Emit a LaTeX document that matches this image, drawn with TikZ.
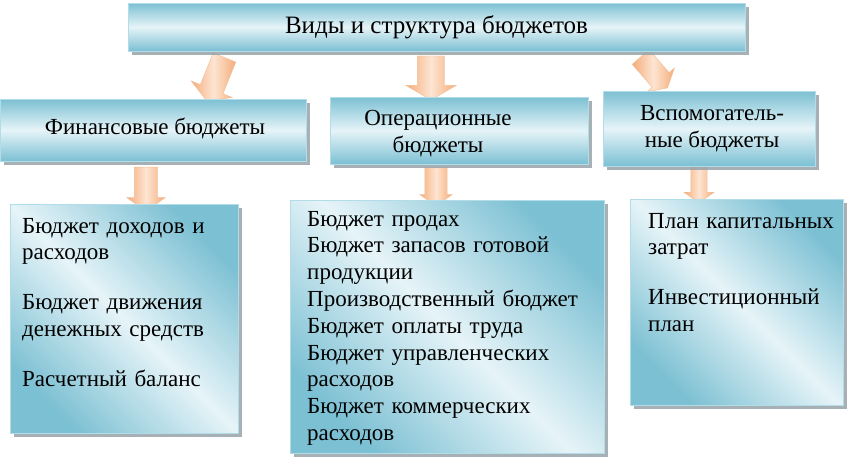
\documentclass[tikz,border=0pt]{standalone}
\usepackage{fontspec}
\setmainfont{Liberation Serif}
\usetikzlibrary{shapes.arrows,shadows}
\definecolor{bD}{RGB}{124,192,211}
\definecolor{bL}{RGB}{230,244,248}
\definecolor{bE}{RGB}{178,220,231}
\definecolor{aD}{RGB}{245,172,122}
\definecolor{aL}{RGB}{253,229,210}
\definecolor{aE}{RGB}{240,190,150}
\definecolor{shd}{RGB}{150,162,168}
\tikzset{
  box/.style={rectangle, draw=bE, line width=0.8pt, inner sep=0pt,
    top color=bD, bottom color=bD, middle color=bL,
    drop shadow={shadow xshift=3.5pt, shadow yshift=-3.5pt, fill=shd, opacity=0.85}},
  diagbox/.style={box, shading angle=-45},
  bodytxt/.style={font=\fontsize{23}{26.8}\selectfont, inner sep=0pt,
    align=left, text width=330pt, anchor=base west},
  headtxt/.style={font=\fontsize{23}{26.8}\selectfont, inner sep=0pt, align=center},
  barrow/.style={single arrow, inner xsep=0pt, single arrow head indent=0pt,
    single arrow tip angle=120, draw=aE, line width=0.4pt,
    left color=aD, right color=aD, middle color=aL}
}
\begin{document}
\begin{tikzpicture}[x=1pt,y=-1pt]
\useasboundingbox (0,0) rectangle (849,466);
% block arrows (drawn first, under the boxes)
\node[barrow, minimum height=47pt, inner ysep=12pt, single arrow head extend=10pt, rotate=-112] (a1) at (217,76) {};
\node[barrow, minimum height=44pt, inner ysep=13.5pt, single arrow head extend=11.5pt, rotate=-90] (a2) at (431,74) {};
\node[barrow, minimum height=41pt, inner ysep=11pt, single arrow head extend=7pt, rotate=-49] (a3) at (652,70) {};
\node[barrow, minimum height=44pt, inner ysep=11.5pt, single arrow head extend=7.5pt, rotate=-90, single arrow tip angle=110] (a4) at (146,185) {};
\node[barrow, minimum height=38pt, inner ysep=11pt, single arrow head extend=5pt, rotate=-90, single arrow tip angle=110] (a5) at (436,183) {};
\node[barrow, minimum height=36pt, inner ysep=8pt, single arrow head extend=7pt, rotate=-90, single arrow tip angle=110] (a6) at (699,182) {};
% boxes
\node[box, minimum width=617pt, minimum height=48pt] (top) at (436.5,27) {};
\node[box, minimum width=306pt, minimum height=62pt] (fin) at (153,130) {};
\node[box, minimum width=258pt, minimum height=67pt] (oper) at (459,130.5) {};
\node[box, minimum width=212pt, minimum height=75pt] (aux) at (709,128.5) {};
\node[diagbox, minimum width=228pt, minimum height=229pt] (b1) at (124,318.5) {};
\node[diagbox, minimum width=314pt, minimum height=253pt] (b2) at (447,326.5) {};
\node[diagbox, minimum width=213pt, minimum height=206pt] (b3) at (736.5,302) {};
% texts
\node[headtxt, font=\fontsize{25}{29}\selectfont] (toptxt) at (436.5,27) {Виды и структура бюджетов};
\node[headtxt] (fintxt) at (155,128) {Финансовые бюджеты};
\node[headtxt] (opertxt) at (438,134) {Операционные\\бюджеты};
\node[headtxt] (auxtxt) at (712,128.5) {Вспомогатель-\\ные бюджеты};
\node[bodytxt] (b1txt) at (22,233) {Бюджет доходов и\\расходов\\[23pt]Бюджет движения\\денежных средств\\[23pt]Расчетный баланс};
\node[bodytxt] (b2txt) at (307,226) {Бюджет продах\\Бюджет запасов готовой\\продукции\\Производственный бюджет\\Бюджет оплаты труда\\Бюджет управленческих\\расходов\\Бюджет коммерческих\\расходов};
\node[bodytxt] (b3txt) at (648,228) {План капитальных\\затрат\\[23pt]Инвестиционный\\план};
\end{tikzpicture}
\end{document}
